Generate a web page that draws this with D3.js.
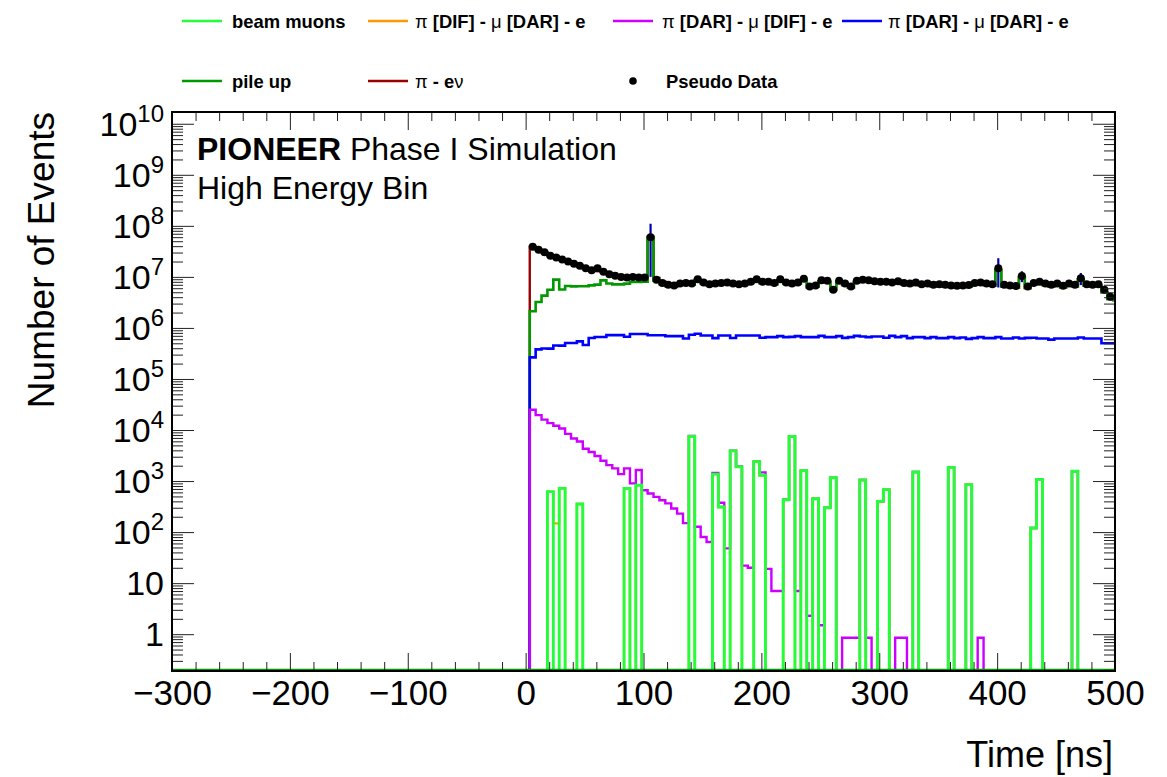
<!DOCTYPE html>
<html>
<head>
<meta charset="utf-8">
<script src="https://d3js.org/d3.v7.min.js"></script>
<style>
  body { margin: 0; background: #fff; }
  svg text { font-family: "Liberation Sans", Arial, Helvetica, sans-serif; fill: #000; }
</style>
</head>
<body>
<svg id="chart" width="1167" height="777"></svg>
<script>
// 5 ns bins, first filled bin starts at 3.5 ns
var binStart = 3.5, binWidth = 5;

var pseudoData = [
  3.9e7, 3.4e7, 3.05e7, 2.6e7, 2.4e7, 2.2e7, 2.0e7, 1.8e7, 1.66e7, 1.47e7,
  1.35e7, 1.47e7, 1.26e7, 1.13e7, 1.05e7, 9.9e6, 9.7e6, 1.0e7, 9.7e6, 9.7e6,
  6.0e7, 8.8e6, 7.6e6, 7.0e6, 6.8e6, 7.4e6, 7.6e6, 7.4e6, 9.0e6, 7.8e6,
  7.2e6, 7.4e6, 7.6e6, 7.8e6, 7.4e6, 7.2e6, 7.4e6, 8.0e6, 9.0e6, 8.0e6,
  8.0e6, 7.6e6, 9.0e6, 7.8e6, 7.4e6, 7.8e6, 9.2e6, 6.5e6, 6.8e6, 8.6e6,
  8.4e6, 5.6e6, 8.4e6, 7.4e6, 6.5e6, 8.4e6, 8.8e6, 8.6e6, 8.2e6, 8.0e6,
  8.0e6, 7.8e6, 8.2e6, 7.6e6, 7.4e6, 7.8e6, 7.2e6, 7.4e6, 7.0e6, 7.2e6,
  7.0e6, 6.8e6, 6.7e6, 6.8e6, 6.9e6, 7.6e6, 7.8e6, 7.4e6, 7.2e6, 1.47e7,
  7.0e6, 6.8e6, 6.6e6, 1.04e7, 6.5e6, 7.6e6, 8.0e6, 7.4e6, 7.0e6, 7.4e6,
  6.7e6, 7.4e6, 7.0e6, 9.4e6, 7.2e6, 7.0e6, 7.2e6, 5.6e6, 4.1e6, 3.8e6
];
// [bin, error] for the bins where the error bar is visible
var pseudoErr = [[20, 5.0e7], [79, 8.5e6], [83, 2.5e6], [93, 2.5e6]];

var piEnu = [
  3.7e7, 3.1e7, 2.6e7, 2.0e7, 1.5e7, 1.6e7, 1.35e7, 1.15e7, 1.0e7, 8.0e6,
  6.7e6, 6.0e6, 4.0e6, 3.9e6, 3.4e6, 2.8e6, 2.3e6, 2.0e6, 1.7e6, 1.6e6,
  1.3e6, 1.1e6, 9.0e5, 7.5e5, 6.0e5, 5.0e5, 4.0e5, 3.3e5, 2.7e5, 2.2e5,
  1.8e5, 1.5e5, 1.2e5, 1.0e5, 8.0e4, 6.5e4, 5.5e4, 4.5e4, 3.7e4, 3.0e4,
  0, 0, 0, 0, 0, 0, 0, 0, 0, 0, 0, 0, 0, 0, 0, 0, 0, 0, 0, 0,
  0, 0, 0, 0, 0, 0, 0, 0, 0, 0, 0, 0, 0, 0, 0, 0, 0, 0, 0, 0,
  0, 0, 0, 0, 0, 0, 0, 0, 0, 0, 0, 0, 0, 0, 0, 0, 0, 0, 0, 0
];

var pileUp = [
  1.86e6, 2.84e6, 3.9e6, 5.2e6, 8.4e6, 5.2e6, 6.1e6, 6.0e6, 6.0e6, 6.1e6,
  6.2e6, 6.4e6, 7.9e6, 6.7e6, 6.4e6, 6.4e6, 6.7e6, 7.2e6, 7.2e6, 7.3e6,
  5.9e7, 7.7e6, 6.5e6, 5.9e6, 5.7e6, 6.3e6, 6.5e6, 6.3e6, 7.9e6, 6.7e6,
  6.1e6, 6.3e6, 6.5e6, 6.7e6, 6.3e6, 6.1e6, 6.3e6, 6.9e6, 7.9e6, 6.9e6,
  6.9e6, 6.5e6, 7.9e6, 6.7e6, 6.3e6, 6.7e6, 8.1e6, 5.6e6, 5.8e6, 7.5e6,
  7.3e6, 4.9e6, 7.3e6, 6.3e6, 5.5e6, 7.3e6, 7.7e6, 7.5e6, 7.1e6, 6.9e6,
  6.9e6, 6.7e6, 7.1e6, 6.5e6, 6.3e6, 6.7e6, 6.1e6, 6.3e6, 5.9e6, 6.1e6,
  5.9e6, 5.7e6, 5.6e6, 5.7e6, 5.8e6, 6.5e6, 6.7e6, 6.3e6, 6.1e6, 1.3e7,
  5.9e6, 5.7e6, 5.5e6, 9.3e6, 5.4e6, 6.5e6, 6.9e6, 6.3e6, 5.9e6, 6.3e6,
  5.6e6, 6.3e6, 5.9e6, 8.3e6, 6.1e6, 5.9e6, 6.1e6, 4.5e6, 3.2e6, 3.0e6
];

var darDar = [
  2.4e5, 3.6e5, 3.8e5, 3.8e5, 4.4e5, 4.4e5, 5.0e5, 5.0e5, 5.4e5, 4.6e5,
  6.3e5, 6.6e5, 6.6e5, 7.2e5, 7.2e5, 7.2e5, 6.7e5, 7.6e5, 7.6e5, 7.6e5,
  7.2e5, 7.2e5, 7.2e5, 6.9e5, 6.9e5, 6.9e5, 6.2e5, 7.3e5, 7.7e5, 7.1e5,
  7.1e5, 6.3e5, 7.1e5, 7.1e5, 6.3e5, 7.1e5, 7.1e5, 7.1e5, 7.1e5, 6.4e5,
  6.6e5, 6.6e5, 6.9e5, 6.6e5, 6.6e5, 6.9e5, 6.6e5, 6.6e5, 6.6e5, 7.0e5,
  6.6e5, 6.6e5, 6.9e5, 6.4e5, 6.6e5, 7.0e5, 6.8e5, 6.6e5, 6.8e5, 6.8e5,
  6.4e5, 7.0e5, 6.6e5, 6.9e5, 6.3e5, 6.6e5, 6.6e5, 6.3e5, 6.6e5, 6.3e5,
  6.3e5, 6.6e5, 6.3e5, 6.5e5, 6.1e5, 6.3e5, 6.6e5, 6.3e5, 6.3e5, 6.6e5,
  6.2e5, 6.2e5, 6.5e5, 6.2e5, 6.4e5, 6.4e5, 6.2e5, 6.2e5, 5.9e5, 6.2e5,
  6.2e5, 6.2e5, 6.2e5, 6.5e5, 6.2e5, 6.2e5, 6.2e5, 5.0e5, 5.0e5, 5.0e5
];

var darDif = [
  2.5e4, 1.96e4, 1.6e4, 1.3e4, 1.2e4, 1.0e4, 8.4e3, 6.8e3, 5.6e3, 4.3e3,
  3.7e3, 3.1e3, 2.5e3, 2.05e3, 1.77e3, 1.37e3, 1.05e3, 900, 820, 660,
  570, 490, 420, 365, 290, 230, 150, 130, 127, 80,
  64, 70, 65, 48, 40, 35, 22, 20, 20, 180,
  19, 7, 7, 7, 7, 7, 3, 2.3, 2, 1.5,
  1, 1, 0, 0.85, 0.85, 0.85, 0.85, 0.85, 0, 0,
  0, 0, 0.85, 0.85, 0, 0, 0, 0, 0, 0,
  0, 0, 0, 0, 0, 0, 0.85, 0, 0, 0,
  0, 0, 0, 0, 0, 0, 0, 0, 0, 0,
  0, 0, 0, 0, 0, 0, 0, 0, 0, 0
];

// sparse [bin, value]
var difDar = [[4, 148]];
var beamMuons = [
  [3, 620], [5, 720], [8, 355], [16, 720], [18, 830], [27, 7500], [31, 1370], [32, 310],
  [34, 3900], [35, 1900], [38, 2400], [39, 1300], [43, 430], [44, 7500], [46, 1600],
  [48, 450], [50, 300], [51, 1160], [56, 1050], [59, 400], [60, 680], [65, 1500],
  [71, 1850], [74, 850], [85, 120], [86, 1080], [92, 1560]
];

var xTicks = [-300, -200, -100, 0, 100, 200, 300, 400, 500];
var yDecades = [0, 1, 2, 3, 4, 5, 6, 7, 8, 9, 10];

var legendRows = [
  [{name: "beam muons", color: "#22ff3a"}, {name: "π [DIF] - μ [DAR] - e", color: "#ff9900"},
   {name: "π [DAR] - μ [DIF] - e", color: "#cc00ff"}, {name: "π [DAR] - μ [DAR] - e", color: "#0000ff"}],
  [{name: "pile up", color: "#009900"}, {name: "π - eν", color: "#990000"},
   {name: "Pseudo Data", color: "#000", dot: true}]
];

function draw() {
  var nBins = pseudoData.length;
  function sparse(list) {
    var a = new Array(nBins).fill(0);
    list.forEach(function (p) { a[p[0]] = p[1]; });
    return a;
  }

  // stacked, bottom first
  var series = [
    {key: "beam", values: sparse(beamMuons), color: "#22ff3a", w: 2.9},
    {key: "difdar", values: sparse(difDar), color: "#ff9900", w: 2.3},
    {key: "dardif", values: darDif, color: "#cc00ff", w: 2.4},
    {key: "dardar", values: darDar, color: "#0000ff", w: 2.6},
    {key: "pileup", values: pileUp, color: "#009900", w: 2.6},
    {key: "enu", values: piEnu, color: "#990000", w: 2.4}
  ];

  var rows = d3.range(nBins).map(function (i) {
    var r = {};
    series.forEach(function (s) { r[s.key] = s.values[i]; });
    return r;
  });
  var stacked = d3.stack().keys(series.map(function (s) { return s.key; }))(rows);

  var svg = d3.select("#chart");
  var fL = 172, fR = 1115, fT = 112, fB = 671;
  var yMin = 0.19, yMax = 1.7e10;

  var x = d3.scaleLinear().domain([-300, 500]).range([fL, fR]);
  var y = d3.scaleLog().domain([yMin, yMax]).range([fB, fT]).clamp(true);
  function yPos(v) { return v > yMin ? y(v) : fB; }

  svg.append("clipPath").attr("id", "plotClip")
    .append("rect").attr("x", fL).attr("y", fT).attr("width", fR - fL).attr("height", fB - fT);

  var plot = svg.append("g").attr("clip-path", "url(#plotClip)");

  function stepPath(tops) {
    var pts = [[x(-300), fB], [x(binStart), fB]];
    tops.forEach(function (v, i) {
      var x0 = x(binStart + i * binWidth), x1 = x(binStart + (i + 1) * binWidth);
      pts.push([x0, yPos(v)], [x1, yPos(v)]);
    });
    return d3.line()(pts);
  }

  // draw top of stack first, lower ones over it
  for (var k = stacked.length - 1; k >= 0; k--) {
    plot.append("path")
      .attr("d", stepPath(stacked[k].map(function (d) { return d[1]; })))
      .attr("fill", "none")
      .attr("stroke", series[k].color)
      .attr("stroke-width", series[k].w);
  }

  // dark green baseline along the bottom
  plot.append("line")
    .attr("x1", fL).attr("x2", fR)
    .attr("y1", fB - 1).attr("y2", fB - 1)
    .attr("stroke", "#009900").attr("stroke-width", 2.6);

  // pseudo data
  var centers = pseudoData.map(function (v, i) { return binStart + (i + 0.5) * binWidth; });
  pseudoErr.forEach(function (p) {
    var v = pseudoData[p[0]];
    plot.append("line")
      .attr("x1", x(centers[p[0]])).attr("x2", x(centers[p[0]]))
      .attr("y1", yPos(v - p[1])).attr("y2", yPos(v + p[1]))
      .attr("stroke", "#0000b0").attr("stroke-width", 2.2);
  });
  plot.selectAll("circle.pd")
    .data(pseudoData.filter(function (v, i) { return centers[i] <= 500; }))
    .enter().append("circle")
    .attr("class", "pd")
    .attr("cx", function (d, i) { return x(centers[i]); })
    .attr("cy", function (d) { return yPos(d); })
    .attr("r", 4)
    .attr("fill", "#000");

  // axes, ROOT style ticks inside the frame
  var xMinor = d3.range(-300, 501, 20).filter(function (t) { return t % 100 !== 0; });
  var ax = svg.append("g");
  ax.append("g").attr("transform", "translate(0," + fB + ")")
    .call(d3.axisBottom(x).tickValues(xTicks).tickSize(-18).tickPadding(9)
      .tickFormat(function (d) { return d < 0 ? "\u2212" + (-d) : d; }))
    .call(function (g) {
      g.select(".domain").remove();
      g.selectAll("text").attr("font-size", 35).style("font-family", "Liberation Sans, Arial, sans-serif");
    });
  ax.append("g").attr("transform", "translate(0," + fB + ")")
    .call(d3.axisBottom(x).tickValues(xMinor).tickSize(-9).tickFormat(""))
    .call(function (g) { g.select(".domain").remove(); });
  ax.append("g").attr("transform", "translate(0," + fT + ")")
    .call(d3.axisTop(x).tickValues(xTicks).tickSize(-18).tickFormat(""))
    .call(function (g) { g.select(".domain").remove(); });
  ax.append("g").attr("transform", "translate(0," + fT + ")")
    .call(d3.axisTop(x).tickValues(xMinor).tickSize(-9).tickFormat(""))
    .call(function (g) { g.select(".domain").remove(); });

  var yMajor = yDecades.map(function (n) { return Math.pow(10, n); });
  var yMinor = [];
  d3.range(-1, 11).forEach(function (n) {
    d3.range(2, 10).forEach(function (m) {
      var v = m * Math.pow(10, n);
      if (v > yMin && v < yMax) yMinor.push(v);
    });
  });
  [[fL, d3.axisLeft], [fR, d3.axisRight]].forEach(function (a) {
    ax.append("g").attr("transform", "translate(" + a[0] + ",0)")
      .call(a[1](y).tickValues(yMajor).tickSize(-22).tickFormat(""))
      .call(function (g) { g.select(".domain").remove(); });
    ax.append("g").attr("transform", "translate(" + a[0] + ",0)")
      .call(a[1](y).tickValues(yMinor).tickSize(-11).tickFormat(""))
      .call(function (g) { g.select(".domain").remove(); });
  });
  ax.selectAll(".tick line").attr("stroke", "#222").attr("stroke-width", 1);

  // y labels 10^n
  yDecades.forEach(function (n) {
    var t = svg.append("text")
      .attr("x", 164).attr("y", y(Math.pow(10, n)) + 12)
      .attr("text-anchor", "end").attr("font-size", 34);
    if (n === 0) t.text("1");
    else if (n === 1) t.text("10");
    else {
      t.append("tspan").text("10");
      t.append("tspan").attr("dy", -14).attr("font-size", 24).text(n);
    }
  });

  // frame
  svg.append("rect")
    .attr("x", fL).attr("y", fT).attr("width", fR - fL).attr("height", fB - fT)
    .attr("fill", "none").attr("stroke", "#000").attr("stroke-width", 2);

  // titles
  svg.append("text")
    .attr("x", fR - 2).attr("y", 767).attr("text-anchor", "end").attr("font-size", 36)
    .text("Time [ns]");
  svg.append("text")
    .attr("transform", "translate(54," + fT + ") rotate(-90)")
    .attr("text-anchor", "end").attr("font-size", 37)
    .text("Number of Events");

  var lbl = svg.append("text").attr("x", 197).attr("y", 160).attr("font-size", 32);
  lbl.append("tspan").attr("font-weight", "bold").text("PIONEER");
  lbl.append("tspan").text(" Phase I Simulation");
  svg.append("text").attr("x", 197).attr("y", 199).attr("font-size", 32).text("High Energy Bin");

  // legend
  var legX = [[182, 232], [368, 415], [613, 662], [842, 888]];
  var legY = [21, 81];
  legendRows.forEach(function (row, r) {
    row.forEach(function (e, c) {
      var g = svg.append("g");
      if (e.dot) {
        g.append("circle").attr("cx", 633).attr("cy", legY[r]).attr("r", 3.8).attr("fill", "#000");
      } else {
        g.append("line").attr("x1", legX[c][0]).attr("x2", legX[c][0] + 40)
          .attr("y1", legY[r]).attr("y2", legY[r])
          .attr("stroke", e.color).attr("stroke-width", 2.5);
      }
      var tx = e.dot ? 666 : legX[c][1];
      var t = g.append("text").attr("x", tx).attr("y", legY[r] + 6.5)
        .attr("font-size", 18.4).attr("font-weight", "bold");
      // greek letters in normal weight like the symbol font
      e.name.split(/([πμν])/).forEach(function (part) {
        if (!part) return;
        var sp = t.append("tspan").text(part);
        if (/[πμν]/.test(part)) sp.attr("font-weight", "normal");
      });
    });
  });
}
draw();
</script>
</body>
</html>
